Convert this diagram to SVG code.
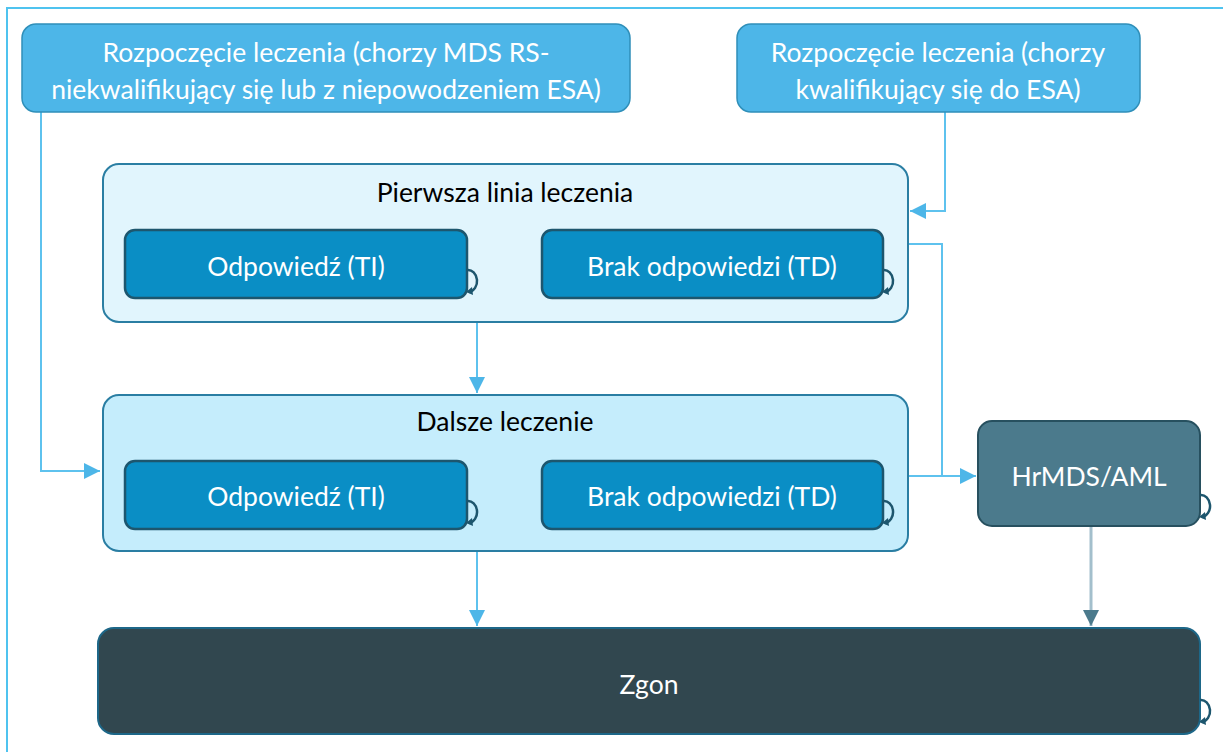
<svg xmlns="http://www.w3.org/2000/svg" width="1223" height="752" viewBox="0 0 1223 752">
<style>
.start{fill:#4db6e8;stroke:#2f8fb9;stroke-width:1.5}
.cont1{fill:#e1f5fd;stroke:#2a7ea3;stroke-width:2}
.cont2{fill:#c5edfc;stroke:#2a7ea3;stroke-width:2}
.inner{fill:#0a8ec5;stroke:#1d566e;stroke-width:2.5}
.hr{fill:#4b7a8c;stroke:#27505f;stroke-width:2}
.zgon{fill:#31474f;stroke:#1d6788;stroke-width:2}
.t{font-family:Lato,"Open Sans","Liberation Sans",sans-serif;font-size:26.5px;text-anchor:middle}
.w{fill:#ffffff}
.b{fill:#000000}
.c{fill:none;stroke:#5ec2ee;stroke-width:2}
.c2{fill:none;stroke:#a3bfcc;stroke-width:3}
.loop{fill:none;stroke:#1d566e;stroke-width:2.5}
</style>
<defs>
<marker id="ahL" viewBox="0 0 10 10" refX="10" refY="5" markerWidth="16" markerHeight="16" markerUnits="userSpaceOnUse" orient="auto"><path d="M0,0 L10,5 L0,10 z" fill="#4db6e8"/></marker>
<marker id="ahD" viewBox="0 0 10 10" refX="10" refY="5" markerWidth="16" markerHeight="16" markerUnits="userSpaceOnUse" orient="auto"><path d="M0,0 L10,5 L0,10 z" fill="#4b7a8c"/></marker>
<g id="selfloop"><path class="loop" d="M0,0 A9,11 0 1,1 2,22"/><path d="M-1,22 L5,17 L6,25 z" fill="#1d566e"/></g>
</defs>
<rect width="1223" height="752" fill="#ffffff"/>
<rect x="7" y="8" width="1240" height="760" fill="none" stroke="#4fc3ef" stroke-width="2"/>

<g id="connectors">
<path class="c" d="M41,112 V471 H100" marker-end="url(#ahL)"/>
<path class="c" d="M945,112 V211 H910" marker-end="url(#ahL)"/>
<path class="c" d="M908,244 H942 V476 H976" marker-end="url(#ahL)"/>
<path class="c" d="M908,476 H942"/>
<path class="c" d="M477,322 V393" marker-end="url(#ahL)"/>
<path class="c" d="M477,551 V626" marker-end="url(#ahL)"/>
<path class="c2" d="M1091,526 V626" marker-end="url(#ahD)"/>
</g>

<g id="start1">
<rect class="start" x="22" y="24" width="608" height="88" rx="14"/>
<text class="t w" x="326" y="62">Rozpoczęcie leczenia (chorzy MDS RS-</text>
<text class="t w" x="326" y="99">niekwalifikujący się lub z niepowodzeniem ESA)</text>
</g>
<g id="start2">
<rect class="start" x="737" y="24" width="403" height="88" rx="14"/>
<text class="t w" x="938" y="62">Rozpoczęcie leczenia (chorzy</text>
<text class="t w" x="938" y="99">kwalifikujący się do ESA)</text>
</g>

<g id="first">
<rect class="cont1" x="103" y="164" width="805" height="158" rx="16"/>
<text class="t b" x="505" y="202">Pierwsza linia leczenia</text>
</g>
<g id="first-ti">
<rect class="inner" x="125" y="230" width="342" height="68" rx="10"/>
<text class="t w" x="296" y="276">Odpowiedź (TI)</text>
<use href="#selfloop" x="467" y="270"/>
</g>
<g id="first-td">
<rect class="inner" x="542" y="230" width="341" height="68" rx="10"/>
<text class="t w" x="712" y="276">Brak odpowiedzi (TD)</text>
<use href="#selfloop" x="883" y="270"/>
</g>

<g id="further">
<rect class="cont2" x="103" y="395" width="805" height="156" rx="16"/>
<text class="t b" x="505" y="431">Dalsze leczenie</text>
</g>
<g id="further-ti">
<rect class="inner" x="125" y="461" width="342" height="68" rx="10"/>
<text class="t w" x="296" y="506">Odpowiedź (TI)</text>
<use href="#selfloop" x="467" y="501"/>
</g>
<g id="further-td">
<rect class="inner" x="542" y="461" width="341" height="68" rx="10"/>
<text class="t w" x="712" y="506">Brak odpowiedzi (TD)</text>
<use href="#selfloop" x="883" y="501"/>
</g>

<g id="hrmds">
<rect class="hr" x="978" y="421" width="222" height="105" rx="14"/>
<text class="t w" x="1089" y="486">HrMDS/AML</text>
<use href="#selfloop" x="1200" y="495"/>
</g>

<g id="zgon">
<rect class="zgon" x="98" y="628" width="1102" height="106" rx="16"/>
<text class="t w" x="649" y="694">Zgon</text>
<use href="#selfloop" x="1200" y="700"/>
</g>
</svg>
